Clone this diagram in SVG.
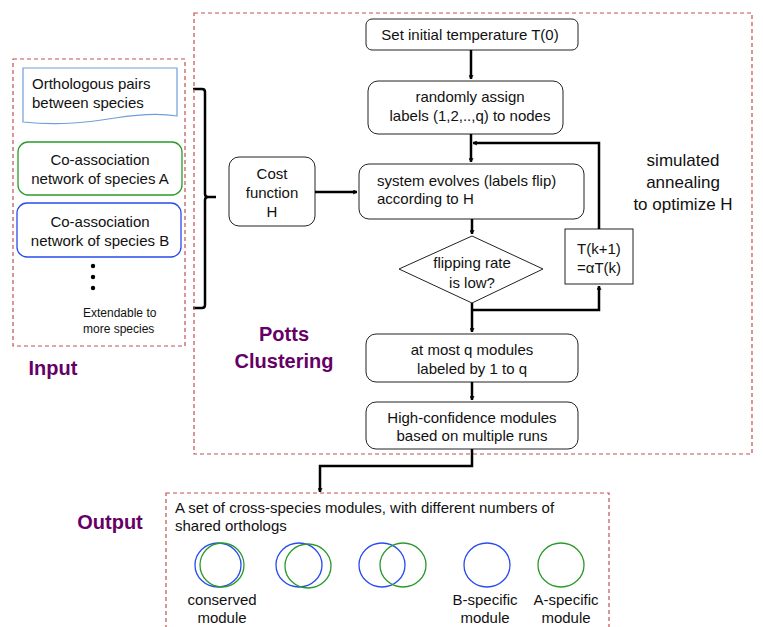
<svg xmlns="http://www.w3.org/2000/svg" width="763" height="627" viewBox="0 0 763 627">
<defs>
<style>
text{font-family:"Liberation Sans",Arial,sans-serif;fill:#111;font-size:15px}
.c{text-anchor:middle}
.dash{fill:none;stroke:#c0504d;stroke-width:1.2;stroke-dasharray:4,3}
.box{fill:#fff;stroke:#222;stroke-width:1}
.con{fill:none;stroke:#000;stroke-width:2.5}
.title{font-weight:bold;fill:#660066;font-size:20px}
.blue{fill:none;stroke:#2a4bf0;stroke-width:1.3}
.green{fill:none;stroke:#2a9a2a;stroke-width:1.3}
</style>
<marker id="ah" viewBox="0 0 10 10" refX="9" refY="5" markerWidth="5" markerHeight="5" orient="auto" markerUnits="userSpaceOnUse">
<path d="M1,1 L9,5 L1,9" fill="none" stroke="#000" stroke-width="2"/>
</marker>
</defs>
<rect width="763" height="627" fill="#fff"/>

<g id="input-group">
<rect class="dash" x="13" y="59" width="172" height="287"/>
<text class="title" x="53" y="375" text-anchor="middle">Input</text>
</g>
<g id="orthologous">
<path d="M23,68 L177,68 L177,116 C160,113 140,114 115,118 C90,122 60,126 23,122 Z" fill="#fff" stroke="#6f9fd8" stroke-width="1.2"/>
<text x="32" y="89">Orthologous pairs</text>
<text x="32" y="108">between species</text>
</g>
<g id="network-a">
<rect x="18" y="142" width="164" height="53" rx="10" fill="#fff" stroke="#2a9a2a" stroke-width="1.3"/>
<text class="c" x="100" y="165">Co-association</text>
<text class="c" x="100" y="184">network of species A</text>
</g>
<g id="network-b">
<rect x="17" y="203" width="164" height="54" rx="10" fill="#fff" stroke="#2a4bf0" stroke-width="1.3"/>
<text class="c" x="100" y="227">Co-association</text>
<text class="c" x="100" y="246">network of species B</text>
</g>
<g id="more-species">
<circle cx="93" cy="266" r="2.2" fill="#000"/>
<circle cx="93" cy="277" r="2.2" fill="#000"/>
<circle cx="93" cy="288" r="2.2" fill="#000"/>
<text x="83" y="317" style="font-size:12px">Extendable to</text>
<text x="83" y="333" style="font-size:12px">more species</text>
</g>

<g id="brace">
<path d="M193,89 L202,89 Q205,89 205,92 L205,194 Q205,197 208,197 L216,197 M208,197 Q205,197 205,200 L205,305 Q205,308 202,308 L193,308" fill="none" stroke="#000" stroke-width="2.5"/>
</g>

<g id="potts-group">
<rect class="dash" x="194" y="13" width="558" height="441"/>
<text class="title c" x="284" y="341">Potts</text>
<text class="title c" x="284" y="368">Clustering</text>
</g>

<g id="set-temp">
<rect class="box" x="366" y="19" width="212" height="31" rx="6"/>
<text class="c" x="470" y="40">Set initial temperature T(0)</text>
</g>
<g id="random-assign">
<rect class="box" x="368" y="81" width="195" height="53" rx="10"/>
<text class="c" x="470" y="102">randomly assign</text>
<text class="c" x="470" y="121">labels (1,2,..,q) to nodes</text>
</g>
<g id="cost-function">
<rect class="box" x="229" y="157" width="86" height="69" rx="10"/>
<text class="c" x="272" y="179">Cost</text>
<text class="c" x="272" y="198">function</text>
<text class="c" x="272" y="217">H</text>
</g>
<g id="system-evolves">
<rect class="box" x="359" y="164" width="225" height="55" rx="10"/>
<text x="377" y="186">system evolves (labels flip)</text>
<text x="377" y="204">according to H</text>
</g>
<g id="flipping-rate">
<polygon class="box" points="472,236 543,269 472,303 399,269"/>
<text class="c" x="472" y="268">flipping rate</text>
<text class="c" x="472" y="288">is low?</text>
</g>
<g id="temp-update">
<rect class="box" x="565" y="229" width="68" height="55"/>
<text class="c" x="599" y="254">T(k+1)</text>
<text class="c" x="599" y="273">=αT(k)</text>
</g>
<g id="annealing-label">
<text class="c" x="683" y="166" style="font-size:17px">simulated</text>
<text class="c" x="683" y="188" style="font-size:17px">annealing</text>
<text class="c" x="683" y="210" style="font-size:17px">to optimize H</text>
</g>
<g id="at-most-q">
<rect class="box" x="366" y="334" width="212" height="48" rx="10"/>
<text class="c" x="472" y="355">at most q modules</text>
<text class="c" x="472" y="374">labeled by 1 to q</text>
</g>
<g id="high-confidence">
<rect class="box" x="366" y="402" width="212" height="47" rx="10"/>
<text class="c" x="472" y="423">High-confidence modules</text>
<text class="c" x="472" y="441">based on multiple runs</text>
</g>

<g id="output-group">
<rect class="dash" x="166" y="493" width="443" height="150"/>
<text class="title c" x="110" y="529">Output</text>
<text x="175" y="513">A set of cross-species modules, with different numbers of</text>
<text x="175" y="531">shared orthologs</text>
</g>
<g id="conserved-module">
<ellipse class="blue" cx="218" cy="565" rx="23" ry="22"/>
<ellipse class="green" cx="222" cy="565" rx="22" ry="22"/>
<text class="c" x="222" y="605">conserved</text>
<text class="c" x="222" y="623">module</text>
</g>
<g id="partial-overlap-1">
<ellipse class="blue" cx="299" cy="565" rx="23" ry="22"/>
<ellipse class="green" cx="308" cy="566" rx="23" ry="22"/>
</g>
<g id="partial-overlap-2">
<ellipse class="blue" cx="382" cy="565" rx="23" ry="22"/>
<ellipse class="green" cx="403" cy="565" rx="23" ry="22"/>
</g>
<g id="b-specific">
<ellipse class="blue" cx="487" cy="565" rx="23" ry="22"/>
<text class="c" x="485" y="605">B-specific</text>
<text class="c" x="485" y="623">module</text>
</g>
<g id="a-specific">
<ellipse class="green" cx="561" cy="565" rx="23" ry="22"/>
<text class="c" x="566" y="605">A-specific</text>
<text class="c" x="566" y="623">module</text>
</g>

<g id="connectors">
<path class="con" d="M471,50 L471,79" marker-end="url(#ah)"/>
<path class="con" d="M471,134 L471,162" marker-end="url(#ah)"/>
<path class="con" d="M599,229 L599,143 L473,143" marker-end="url(#ah)"/>
<path class="con" d="M315,192 L357,192" marker-end="url(#ah)"/>
<path class="con" d="M472,219 L472,234" marker-end="url(#ah)"/>
<path class="con" d="M472,303 L472,332" marker-end="url(#ah)"/>
<path class="con" d="M472,310 L599,310 L599,286" marker-end="url(#ah)"/>
<path class="con" d="M472,382 L472,400" marker-end="url(#ah)"/>
<path class="con" d="M472,449 L472,466 L320,466 L320,492" marker-end="url(#ah)"/>
</g>
</svg>
